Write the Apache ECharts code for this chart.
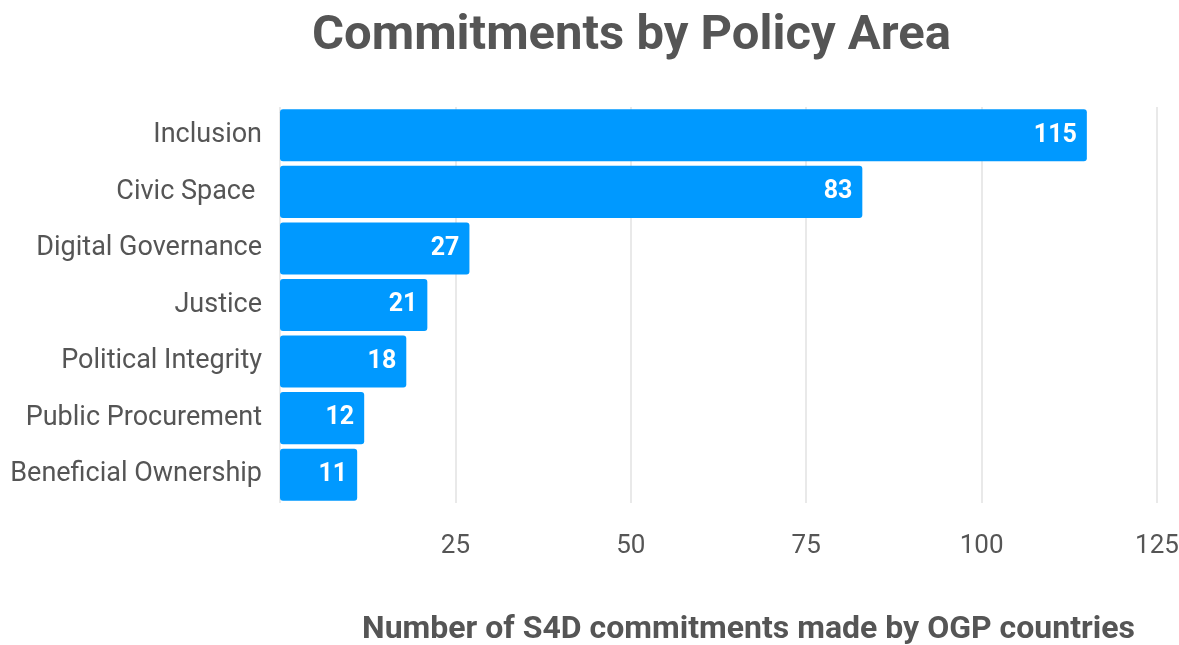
<!DOCTYPE html>
<html>
<head>
<meta charset="utf-8">
<script src="https://cdn.jsdelivr.net/npm/echarts@6/dist/echarts.min.js"></script>
<style>html,body{margin:0;padding:0;background:#fff}#c{width:1179px;height:645px}</style>
</head>
<body>
<div id="c"></div>
<script>
const categories = ["Inclusion","Civic Space ","Digital Governance","Justice","Political Integrity","Public Procurement","Beneficial Ownership"];
const values = [115, 83, 27, 21, 18, 12, 11];
const tickValues = [0, 25, 50, 75, 100, 125];

const chart = echarts.init(document.getElementById('c'));
chart.setOption({
  backgroundColor: '#fff',
  animation: false,
  title: {
    text: 'Commitments by Policy Area',
    left: 307,
    top: 7,
    textStyle: { fontFamily: 'Roboto', fontWeight: 'bold', fontSize: 49, color: '#555555' }
  },
  grid: { left: 280, right: 22, top: 107, bottom: 142, containLabel: false, outerBoundsMode: 'none' },
  xAxis: {
    type: 'value',
    min: tickValues[0],
    max: tickValues[tickValues.length - 1],
    interval: 25,
    name: 'Number of S4D commitments made by OGP countries',
    nameLocation: 'middle',
    nameGap: 111,
    nameTextStyle: { fontFamily: 'Roboto', fontWeight: 'bold', fontSize: 32, color: '#555555', padding: [0, 0, 0, 60] },
    axisLine: { show: false },
    axisTick: { show: false },
    axisLabel: {
      margin: 30,
      fontFamily: 'Roboto', fontSize: 26, color: '#555555',
      formatter: v => (v === 0 ? '' : String(v))
    },
    splitLine: { show: true, lineStyle: { color: '#e2e2e2', width: 1.5 } }
  },
  yAxis: {
    type: 'category',
    data: categories,
    inverse: true,
    axisLine: { show: false },
    axisTick: { show: false },
    axisLabel: { margin: 18, padding: [4, 0, 0, 0], fontFamily: 'Roboto', fontSize: 27, color: '#555555' }
  },
  series: [{
    type: 'bar',
    data: values,
    barCategoryGap: '8%',
    itemStyle: { color: '#0099ff', borderRadius: 3 },
    label: {
      show: true,
      position: 'insideRight',
      distance: 10,
      fontFamily: 'Roboto', fontWeight: 'bold', fontSize: 25, color: '#ffffff'
    }
  }]
});
</script>
</body>
</html>
